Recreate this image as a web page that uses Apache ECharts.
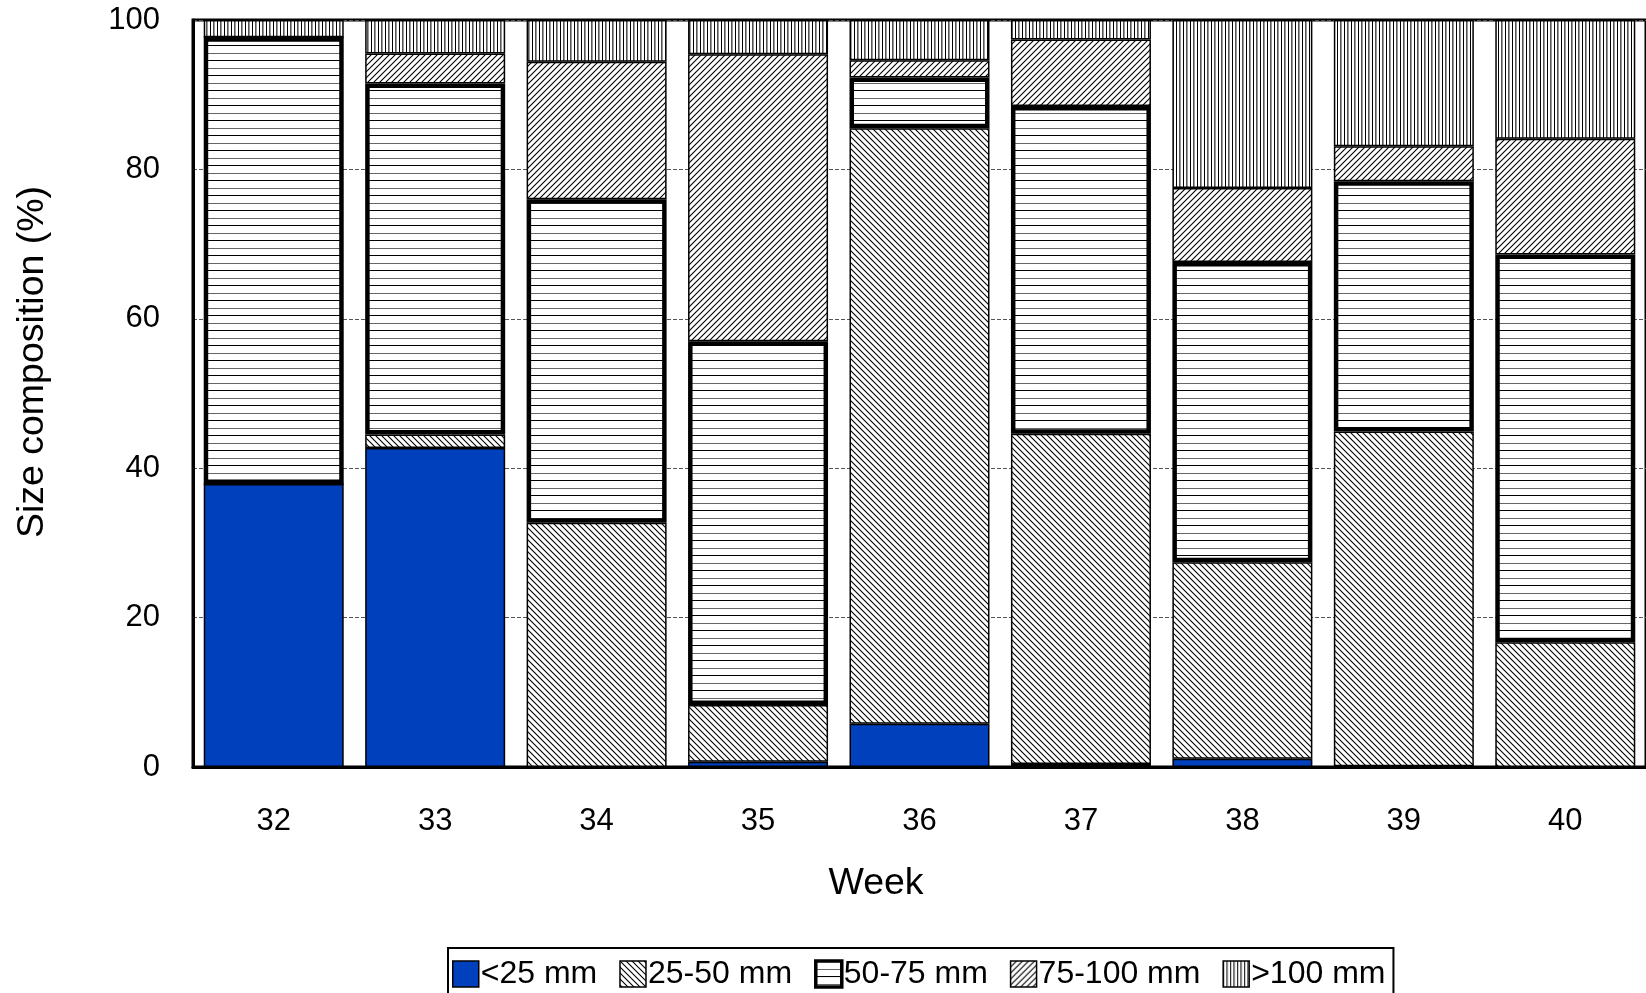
<!DOCTYPE html>
<html>
<head>
<meta charset="utf-8">
<script src="https://cdn.jsdelivr.net/npm/echarts@6/dist/echarts.min.js"></script>
<style>
html,body{margin:0;padding:0;background:#fff;}
#chart{width:1646px;height:993px;}
</style>
</head>
<body>
<div id="chart"></div>
<script>
// ---- data ----
const weeks = ['32','33','34','35','36','37','38','39','40'];
const seriesNames = ['<25 mm','25-50 mm','50-75 mm','75-100 mm','>100 mm'];
const lt25   = [37.9, 42.7, 0.0, 0.7, 5.8, 0.4, 1.1, 0.1, 0.0];
const s25_50 = [0.0, 1.8, 32.7, 7.6, 79.7, 44.2, 26.3, 44.8, 16.7];
const s50_75 = [59.8, 47.0, 43.3, 48.7, 6.8, 43.9, 40.2, 33.5, 51.9];
const s75_100= [0.0, 4.0, 18.4, 38.4, 2.3, 8.9, 9.9, 4.7, 15.5];
const gt100  = [2.3, 4.5, 5.6, 4.6, 5.4, 2.6, 22.5, 16.9, 15.9];
const yTicks = [0, 20, 40, 60, 80, 100];

// ---- patterns ----
function tile(w, h, draw) {
  const c = document.createElement('canvas');
  c.width = w; c.height = h;
  const ctx = c.getContext('2d');
  ctx.fillStyle = '#fff';
  ctx.fillRect(0, 0, w, h);
  draw(ctx);
  return { image: c, repeat: 'repeat' };
}
const patBack = tile(6, 6, ctx => {
  ctx.strokeStyle = '#000'; ctx.lineWidth = 1.1;
  ctx.beginPath();
  ctx.moveTo(-1, -1); ctx.lineTo(7, 7);
  ctx.moveTo(-1, 5); ctx.lineTo(1, 7);
  ctx.moveTo(5, -1); ctx.lineTo(7, 1);
  ctx.stroke();
});
const patFwd = tile(6, 6, ctx => {
  ctx.strokeStyle = '#000'; ctx.lineWidth = 1.1;
  ctx.beginPath();
  ctx.moveTo(-1, 7); ctx.lineTo(7, -1);
  ctx.moveTo(-1, 1); ctx.lineTo(1, -1);
  ctx.moveTo(5, 7); ctx.lineTo(7, 5);
  ctx.stroke();
});
const patHoriz = tile(4, 15, ctx => {
  ctx.fillStyle = '#000'; ctx.fillRect(0, 0, 4, 1);
  ctx.fillStyle = '#666'; ctx.fillRect(0, 8, 4, 1);
});
const patVert = tile(7, 4, ctx => {
  ctx.fillStyle = '#000'; ctx.fillRect(0, 0, 1, 4);
  ctx.fillStyle = '#555'; ctx.fillRect(3, 0, 1, 4);
  ctx.fillStyle = '#999'; ctx.fillRect(4, 0, 1, 4);
});

const FONT = 'Liberation Sans, Arial, sans-serif';
const chart = echarts.init(document.getElementById('chart'), null, {renderer: 'canvas'});

function barSeries(name, data, color, bw, z) {
  return {
    name: name, type: 'bar', stack: 'total', data: data,
    barWidth: 140, z: z,
    itemStyle: { color: color, borderColor: '#000', borderWidth: bw },
    emphasis: { disabled: true }
  };
}

chart.setOption({
  animation: false,
  backgroundColor: '#fff',
  textStyle: { fontFamily: FONT, color: '#000' },
  grid: {
    left: 193, top: 20, width: 1455, height: 747,
    show: true, borderColor: '#000', borderWidth: 3, backgroundColor: 'transparent'
  },
  legend: {
    left: 448, top: 948,
    itemWidth: 26, itemHeight: 26, itemGap: 22,
    padding: [10, 8, 20, 4],
    borderColor: '#000', borderWidth: 2,
    textStyle: { fontFamily: FONT, fontSize: 32, color: '#000', padding: [0,0,0,-3] },
    data: seriesNames.map((n, i) => i === 2
      ? { name: n, icon: 'rect', itemStyle: { borderWidth: 3.5, borderColor: '#000' } }
      : { name: n, icon: 'rect', itemStyle: { borderWidth: 1.5, borderColor: '#000' } })
  },
  xAxis: {
    type: 'category', data: weeks,
    axisLine: { lineStyle: { color: '#000', width: 3 } },
    axisTick: { alignWithLabel: true, length: 20, lineStyle: { color: '#444', width: 1.5 } },
    axisLabel: { fontFamily: FONT, fontSize: 31, color: '#000', margin: 39 },
    splitLine: { show: false }
  },
  yAxis: {
    type: 'value', min: 0, max: 100, interval: 20,
    axisLine: { show: true, lineStyle: { color: '#000', width: 3 } },
    axisTick: { show: false },
    axisLabel: { fontFamily: FONT, fontSize: 31, color: '#000', margin: 33,
      formatter: v => yTicks.indexOf(v) >= 0 ? String(v) : '' },
    splitLine: { show: true, lineStyle: { color: '#555', width: 1, type: [4, 2] } }
  },
  graphic: [
    { type: 'text', x: 33, y: 362, rotation: Math.PI / 2,
      style: { text: 'Size composition (%)', fontFamily: FONT, fontSize: 37.5, fill: '#000',
        textAlign: 'center', textVerticalAlign: 'middle' } },
    { type: 'text', x: 876, y: 884,
      style: { text: 'Week', fontFamily: FONT, fontSize: 37.5, fill: '#000',
        textAlign: 'center', textVerticalAlign: 'middle' } }
  ],
  series: [
    barSeries(seriesNames[0], lt25, '#0040bd', 1.5, 2),
    barSeries(seriesNames[1], s25_50, patBack, 1.5, 2),
    barSeries(seriesNames[2], s50_75, patHoriz, 4.5, 4),
    barSeries(seriesNames[3], s75_100, patFwd, 1.5, 2),
    barSeries(seriesNames[4], gt100, patVert, 1.5, 2)
  ]
});
</script>
</body>
</html>
